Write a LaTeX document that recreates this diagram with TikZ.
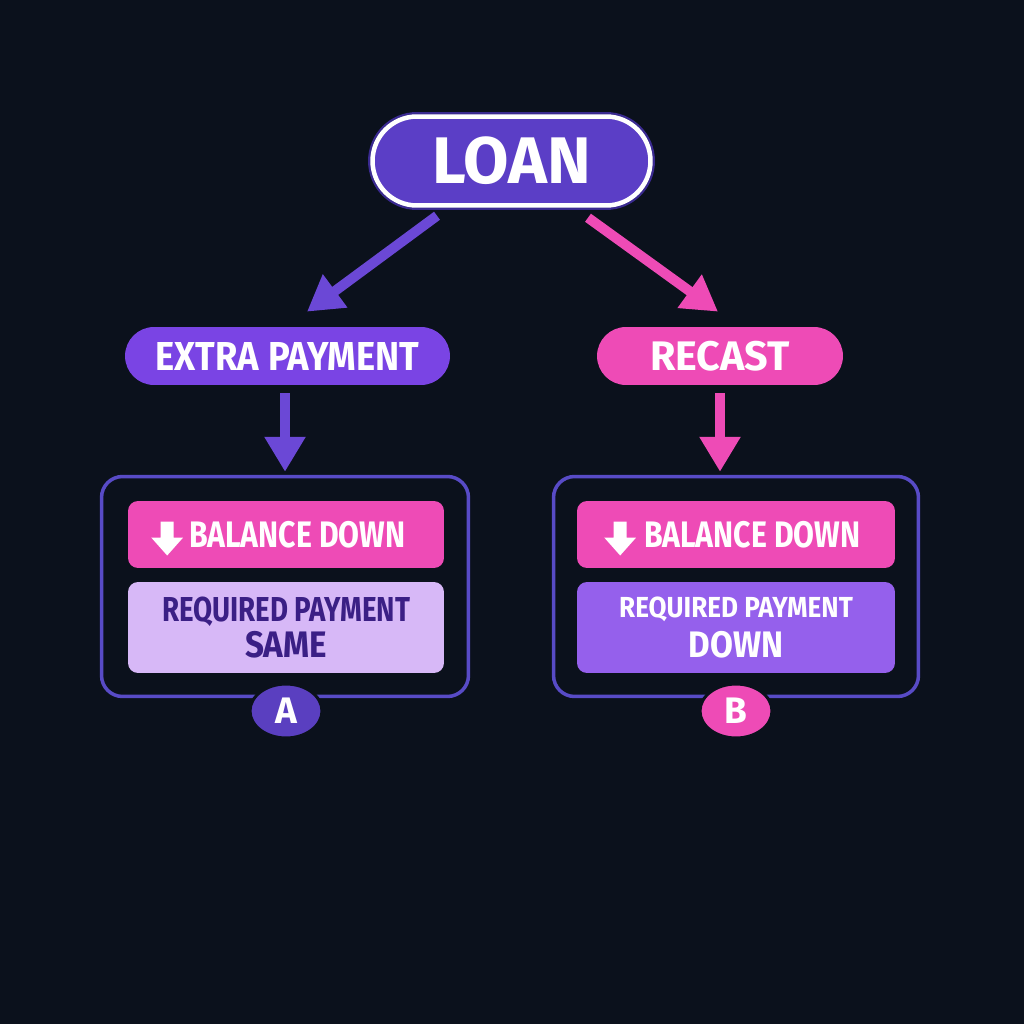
\documentclass[tikz,border=0pt]{standalone}
\usepackage{fontspec}
\setmainfont{Fira Sans}[FakeStretch=0.9]
\newfontfamily\widef{Fira Sans}
\newfontfamily\condf{Fira Sans}[FakeStretch=0.82]
\newfontfamily\condg{Fira Sans}[FakeStretch=0.8]
\usetikzlibrary{arrows.meta,calc,shapes.misc,shapes.geometric}
\definecolor{bg}{HTML}{0B111C}
\definecolor{loanfill}{HTML}{5B3EC6}
\definecolor{loanedge}{HTML}{3A2A90}
\definecolor{epfill}{HTML}{7A44E4}
\definecolor{pinkc}{HTML}{EE4BB6}
\definecolor{arrowpurple}{HTML}{6B48D6}
\definecolor{contour}{HTML}{584BC6}
\definecolor{lavender}{HTML}{D7B8F7}
\definecolor{lavtext}{HTML}{3B1F85}
\definecolor{boxpurple}{HTML}{9560EC}
\definecolor{circA}{HTML}{5A3FC0}
\tikzset{
  pill/.style={rounded rectangle, minimum height=1.16cm, inner sep=0pt, text=white},
  container/.style={draw=contour, line width=0.07cm, rounded corners=0.42cm,
    minimum width=7.34cm, minimum height=4.4cm, inner sep=0pt},
  inbox/.style={rounded corners=0.2cm, minimum width=6.32cm, inner sep=0pt},
  flowarrow/.style={line width=0.2cm, -{Triangle[length=0.7cm,width=0.78cm]}},
  badge/.style={ellipse, minimum width=1.44cm, minimum height=1.08cm, inner sep=0pt,
    draw=bg, line width=0.06cm, text=white, font=\widef\bfseries\fontsize{21}{22}\selectfont},
  icontext/.style={anchor=west, inner sep=0pt, text=white,
    font=\condf\bfseries\fontsize{21}{22}\selectfont},
}
\begin{document}
\begin{tikzpicture}[x=0.02cm,y=-0.02cm]
\fill[bg] (0,0) rectangle (1024,1024);
\useasboundingbox (0,0) rectangle (1024,1024);

% top node
\node[rounded rectangle, minimum width=5.56cm, minimum height=1.78cm, inner sep=0pt,
  fill=loanfill, draw=white, line width=0.09cm,
  preaction={draw=loanedge, line width=0.18cm},
  text=white, font=\widef\bfseries\fontsize{37.5}{40}\selectfont] (loan) at (511.5,161) {LOAN};

% second level
\node[pill, fill=epfill, minimum width=6.5cm, font=\bfseries\fontsize{23}{24}\selectfont] (ep) at (287.5,356) {EXTRA PAYMENT};
\node[pill, fill=pinkc, minimum width=4.92cm, font=\widef\bfseries\fontsize{23.5}{24}\selectfont] (rc) at (720,356) {RECAST};

% containers
\node[container] (ca) at (285,586.5) {};
\node[container, minimum width=7.3cm] (cb) at (736,586.5) {};

% inner boxes A
\node[inbox, fill=pinkc, minimum height=1.34cm] (pa) at (286,534.5) {};
\node[inbox, fill=lavender, minimum height=1.82cm, align=center, text=lavtext,
  font=\bfseries\fontsize{21}{20.4}\selectfont] (la) at (286,627.5)
  {{\condg\fontsize{19.7}{20.4}\selectfont REQUIRED PAYMENT}\\SAME};
% inner boxes B
\node[inbox, fill=pinkc, minimum height=1.34cm, minimum width=6.36cm] (pb) at (736,534.5) {};
\node[inbox, fill=boxpurple, minimum height=1.82cm, minimum width=6.36cm, align=center, text=white,
  font=\bfseries\fontsize{21}{22.7}\selectfont] (lb) at (736,627.5)
  {{\fontsize{16.5}{22.7}\selectfont REQUIRED PAYMENT}\\DOWN};

% icons and labels in pink boxes
\fill[white, shift={($(pa.west)+(39.5,0)$)}] (-6.5,-13) -- (6.5,-13) -- (6.5,3) -- (16,3) -- (0,21) -- (-16,3) -- (-6.5,3) -- cycle;
\node[icontext] (ta) at ($(pa.west)+(61,0)$) {BALANCE DOWN};
\fill[white, shift={($(pb.west)+(43.5,0)$)}] (-6.5,-13) -- (6.5,-13) -- (6.5,3) -- (16,3) -- (0,21) -- (-16,3) -- (-6.5,3) -- cycle;
\node[icontext] (tb) at ($(pb.west)+(67,0)$) {BALANCE DOWN};

% badges
\node[badge, fill=circA] (ba) at (286,711) {A};
\node[badge, fill=pinkc] (bb) at (736,711) {B};

% arrows
\draw[flowarrow, arrowpurple] ($(loan.south)+(-74.5,8)$) -- ($(ep.north)+(19.5,-15)$);
\draw[flowarrow, pinkc] ($(loan.south)+(76.5,10)$) -- ($(rc.north)+(-2,-15)$);
\draw[flowarrow, arrowpurple, shorten <=0.16cm, shorten >=0.06cm] (ca.north |- ep.south) -- (ca.north);
\draw[flowarrow, pinkc, shorten <=0.16cm, shorten >=0.06cm] (rc.south) -- (rc.south |- cb.north);
\end{tikzpicture}
\end{document}
